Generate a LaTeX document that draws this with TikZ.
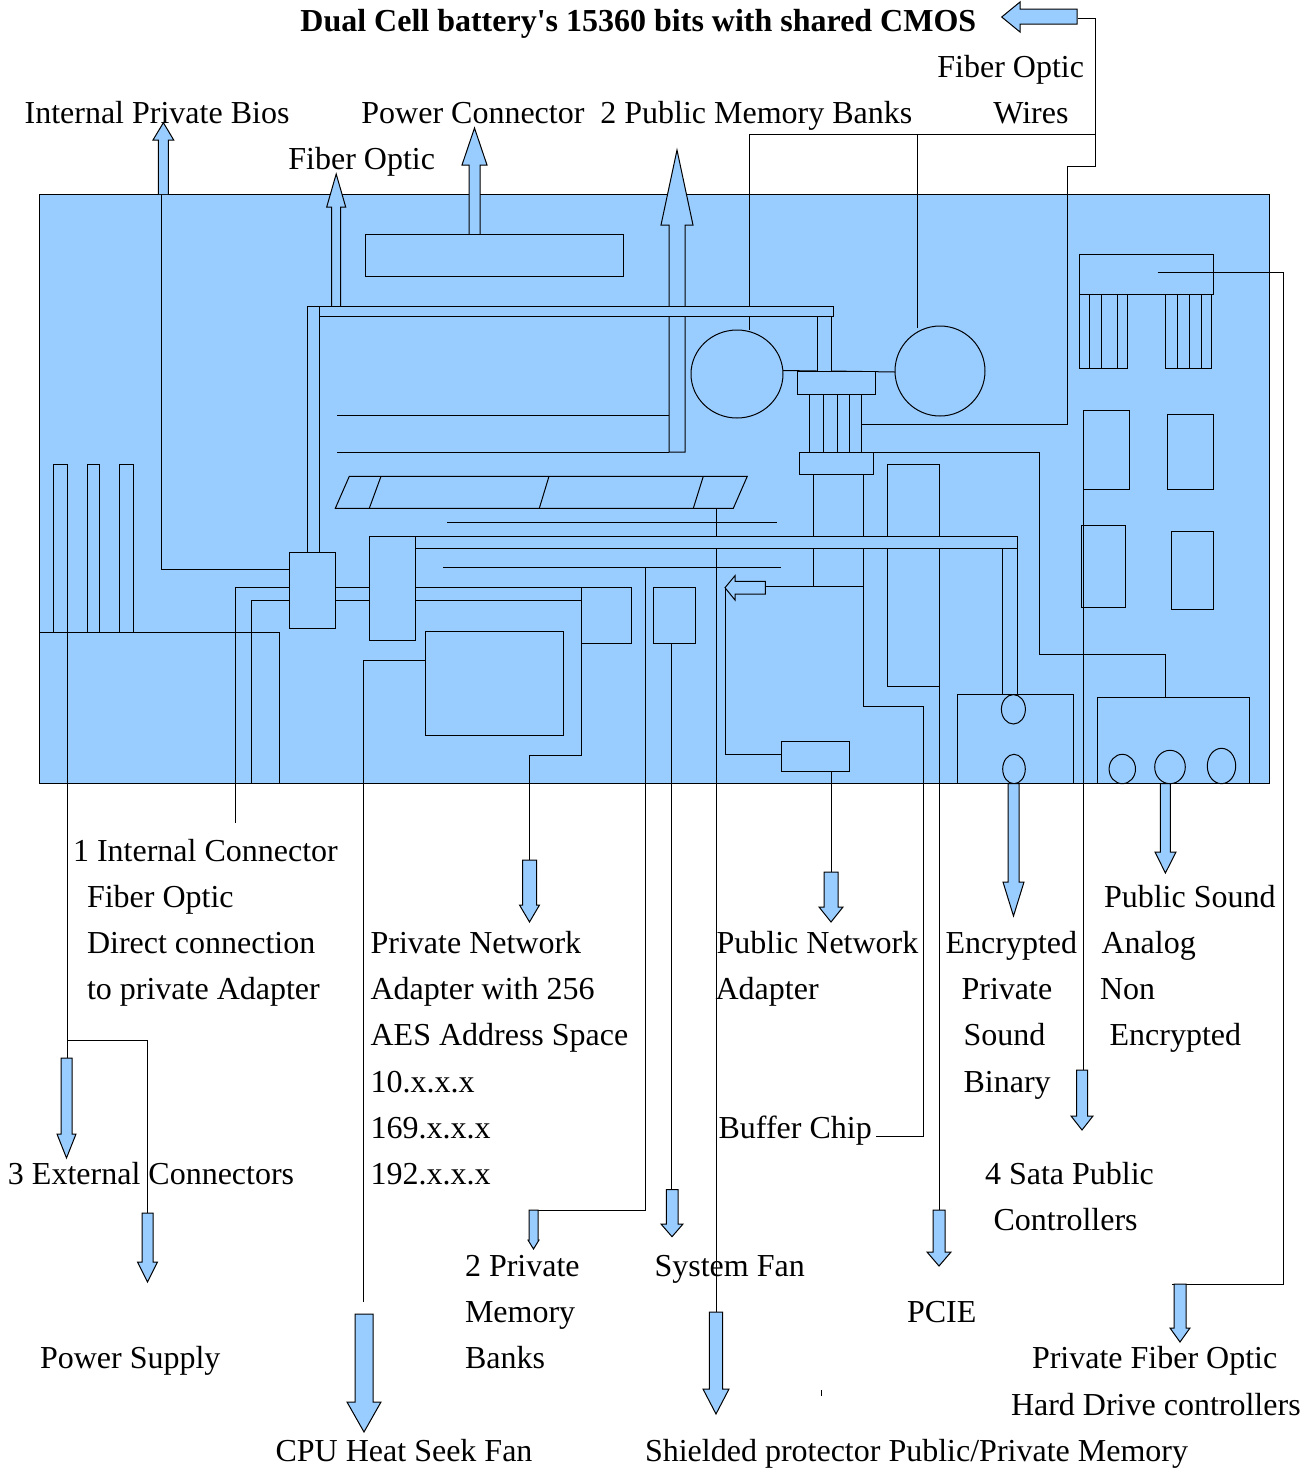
\documentclass[tikz,border=0pt]{standalone}
\usepackage{fontspec}
\setmainfont{Liberation Serif}[Ligatures=TeXOff]
\definecolor{boardblue}{HTML}{99CCFF}
\tikzset{
  lbl/.style={anchor=base west,inner sep=0pt,xshift=-0.4pt,font=\fontsize{16}{19}\selectfont},
  wire/.style={line width=0.5pt,black},
  part/.style={line width=0.5pt,black,fill=boardblue},
}
\begin{document}
\begin{tikzpicture}[x=0.5pt,y=-0.5pt]
\useasboundingbox (0,0) rectangle (1315,1469);
\node[lbl,font=\fontsize{16}{19}\selectfont\bfseries] (title) at (300.8,31) {Dual Cell battery's 15360 bits with shared CMOS};
\node[lbl] (wiresa) at (937.8,77) {Fiber Optic};
\node[lbl] (wiresb) at (993.8,123) {Wires};
\node[lbl] (bios) at (25,123) {Internal Private Bios};
\node[lbl] (power) at (361.8,123) {Power Connector};
\node[lbl] (pubmem) at (600.8,123) {2 Public Memory Banks};
\node[lbl] (fiber) at (288.8,169) {Fiber Optic};
\node[lbl] (intera) at (73.4,861) {1 Internal Connector};
\node[lbl] (interb) at (87.4,907) {Fiber Optic};
\node[lbl] (interc) at (87.4,953) {Direct connection};
\node[lbl] (interd) at (87.4,999) {to private Adapter};
\node[lbl] (pubsnda) at (1104.4,907) {Public Sound};
\node[lbl] (pubsndb) at (1102,953) {Analog};
\node[lbl] (pubsndc) at (1100.4,999) {Non};
\node[lbl] (pubsndd) at (1110,1045) {Encrypted};
\node[lbl] (privneta) at (371,953) {Private Network};
\node[lbl] (privnetb) at (371,999) {Adapter with 256};
\node[lbl] (privnetc) at (371,1045) {AES Address Space};
\node[lbl] (privnetd) at (371,1092) {10.x.x.x};
\node[lbl] (privnete) at (371,1138) {169.x.x.x};
\node[lbl] (privnetf) at (371,1184) {192.x.x.x};
\node[lbl] (pubneta) at (717,953) {Public Network};
\node[lbl] (pubnetb) at (716,999) {Adapter};
\node[lbl] (encsnda) at (946,953) {Encrypted};
\node[lbl] (encsndb) at (962,999) {Private};
\node[lbl] (encsndc) at (964,1045) {Sound};
\node[lbl] (encsndd) at (964,1092) {Binary};
\node[lbl] (buffer) at (719,1138) {Buffer Chip};
\node[lbl] (external) at (8.4,1184) {3 External Connectors};
\node[lbl] (sataa) at (985.4,1184) {4 Sata Public};
\node[lbl] (satab) at (994,1230) {Controllers};
\node[lbl] (privmema) at (465.4,1276) {2 Private};
\node[lbl] (privmemb) at (465.4,1322) {Memory};
\node[lbl] (privmemc) at (465.4,1368) {Banks};
\node[lbl] (sysfan) at (655,1276) {System Fan};
\node[lbl] (pcie) at (907.4,1322) {PCIE};
\node[lbl] (supply) at (40.4,1368) {Power Supply};
\node[lbl] (hdda) at (1032.4,1368) {Private Fiber Optic};
\node[lbl] (hddb) at (1011.4,1415) {Hard Drive controllers};
\node[lbl] (cpufan) at (276,1461) {CPU Heat Seek Fan};
\node[lbl] (shield) at (645.4,1461) {Shielded protector Public/Private Memory};
\draw[part] (39,194) rectangle (1269,783);
\draw[wire] (39,632) -- (279,632) -- (279,783);
\draw[part] (53.3,464) rectangle (67.6,632);
\draw[part] (87.3,464) rectangle (99.6,632);
\draw[part] (119.4,464) rectangle (133.2,632);
\draw[wire] (67.6,632) -- (67.6,1058);
\draw[wire] (67.6,1040) -- (147,1040) -- (147,1213);
\draw[wire] (161,194) -- (161,569) -- (289,569);
\draw[wire] (289,587.6) -- (235,587.6) -- (235,823);
\draw[wire] (289,600) -- (251.4,600) -- (251.4,783);
\draw[wire] (335,587.6) -- (369,587.6) (335,600) -- (369,600);
\draw[wire] (415,587.6) -- (581,587.6) (415,600) -- (581,600);
\draw[wire] (749,134) -- (749,330);
\draw[wire] (749,134) -- (1095,134);
\draw[wire] (917,134) -- (917,328);
\draw[wire] (1078,18) -- (1095,18) -- (1095,166) -- (1067.3,166) -- (1067.3,424) -- (861.4,424);
\draw[wire] (337,415.7) -- (669,415.7) (337,452) -- (669,452);
\draw[part] (669,452) -- (669,225) -- (661,225) -- (677,150) -- (693,225) -- (685,225) -- (685,452) -- cycle;
\draw[part] (307,552) -- (307,306) -- (319,306) -- (319,552);
\draw[part] (331.5,306) -- (331.5,207) -- (326.7,207) -- (336.2,174) -- (345.7,207) -- (340.7,207) -- (340.7,306);
\draw[part] (469,234) -- (469,165) -- (462,165) -- (474.5,128) -- (487,165) -- (480,165) -- (480,234);
\draw[part] (158.3,194) -- (158.3,140) -- (153,140) -- (163.4,122.7) -- (173.7,140) -- (168.3,140) -- (168.3,194);
\draw[part] (365,234) rectangle (623,276);
\draw[part] (817,316) rectangle (831,372);
\draw[part] (319,306) rectangle (833,316);
\draw[part] (737,374) ellipse [x radius=46,y radius=44];
\draw[part] (940,371) ellipse [x radius=45,y radius=45];
\draw[wire] (783,370.5) -- (817,371) (831,371) -- (895,372);
\draw[part] (797,371.7) rectangle (875.6,394);
\draw[wire] (809.4,394) -- (809.4,452) (823.5,394) -- (823.5,452) (837.3,394) -- (837.3,452) (849.5,394) -- (849.5,452) (861.4,394) -- (861.4,452);
\draw[part] (799.4,452) rectangle (873.3,474);
\draw[wire] (873.3,452) -- (1039.4,452) -- (1039.4,654.5) -- (1165.4,654.5) -- (1165.4,697.7);
\draw[part] (349.3,476.3) -- (747.3,476.3) -- (733.3,508.3) -- (335.3,508.3) -- cycle;
\draw[wire] (381,476.3) -- (369.3,508.3) (549,476.3) -- (539.3,508.3) (703.3,476.3) -- (693.3,508.3);
\draw[wire] (716.5,508.3) -- (716.5,1312);
\draw[wire] (447,522) -- (777,522) (443,567.7) -- (781,567.7);
\draw[wire] (813,474) -- (813,586);
\draw[wire] (765,586) -- (863.4,586);
\draw[wire] (863.4,474) -- (863.4,706) -- (923,706) -- (923,1136) -- (876,1136);
\draw[wire] (939.6,464) -- (887.4,464) -- (887.4,686) -- (939.6,686);
\draw[wire] (939.6,464) -- (939.6,1210);
\draw[wire] (645,567.7) -- (645,1210) -- (533,1210);
\draw[part] (415,536) rectangle (1017,548.3);
\draw[wire] (1002,548.3) -- (1002,694) (1017,548.3) -- (1017,695);
\draw[part] (289.4,552.3) rectangle (335.3,628.3);
\draw[part] (369.3,536) rectangle (415,640);
\draw[part] (581.2,587.7) rectangle (631.4,643.7);
\draw[part] (653.3,587.3) rectangle (695.7,643.7);
\draw[part] (425,631.7) rectangle (563.4,735.7);
\draw[wire] (581.2,643.7) -- (581.2,755.7) -- (529,755.7) -- (529,860);
\draw[wire] (425,660) -- (363.3,660) -- (363.3,1302);
\draw[wire] (671.3,643.7) -- (671.3,1190);
\draw[part] (765.4,581.3) -- (735,581.3) -- (735,575.7) -- (725,587.7) -- (735,600) -- (735,594) -- (765.4,594) -- cycle;
\draw[wire] (725,587.7) -- (725,754) -- (781,754);
\draw[part] (781,741.7) rectangle (849.3,771.7);
\draw[wire] (831,771.7) -- (831,872);
\draw[part] (957,694) rectangle (1073,783.7);
\draw[part] (1013.4,709.3) ellipse [x radius=12,y radius=14.7];
\draw[part] (1014,769) ellipse [x radius=11.3,y radius=14.7];
\draw[part] (1097,697.7) rectangle (1249.5,783.7);
\draw[part] (1122.3,769) ellipse [x radius=13.2,y radius=14.7];
\draw[part] (1170,767) ellipse [x radius=15.3,y radius=16.7];
\draw[part] (1221.5,766) ellipse [x radius=14.2,y radius=17.7];
\draw[part] (1079,254) rectangle (1213.5,294);
\draw[part] (1079.5,294) rectangle (1127.4,368.3);
\draw[wire] (1089,294) -- (1089,368.3) (1101.4,294) -- (1101.4,368.3) (1117.4,294) -- (1117.4,368.3);
\draw[part] (1165.3,294) rectangle (1211.6,368.3);
\draw[wire] (1177,294) -- (1177,368.3) (1189.4,294) -- (1189.4,368.3) (1201.2,294) -- (1201.2,368.3);
\draw[part] (1083.4,410) rectangle (1129.3,489.7);
\draw[part] (1167.6,414.3) rectangle (1213.5,489.7);
\draw[part] (1081,525.7) rectangle (1125.6,607.7);
\draw[part] (1171.5,531.7) rectangle (1213.2,609.7);
\draw[wire] (1083.4,489.7) -- (1083.4,1070);
\draw[wire] (1157.6,272) -- (1283,272) -- (1283,1284) -- (1172,1284);
\draw[part] (1077,9) -- (1020,9) -- (1020,2) -- (1001.7,17) -- (1020,32) -- (1020,24) -- (1077,24) -- cycle;
\draw[part] (61,1058) -- (61,1134) -- (57,1134) -- (66.5,1158) -- (76,1134) -- (72,1134) -- (72,1058) -- cycle;
\draw[part] (142,1213) -- (142,1262) -- (137.5,1262) -- (147.5,1282) -- (157.5,1262) -- (153,1262) -- (153,1213) -- cycle;
\draw[part] (522.5,860) -- (522.5,905) -- (519.5,905) -- (529.5,922) -- (539.5,905) -- (536.5,905) -- (536.5,860) -- cycle;
\draw[part] (824,872) -- (824,907) -- (819,907) -- (831,922) -- (843,907) -- (838,907) -- (838,872) -- cycle;
\draw[part] (1008,783.7) -- (1008,882) -- (1003,882) -- (1013.5,916) -- (1024,882) -- (1019,882) -- (1019,783.7) -- cycle;
\draw[part] (1160.4,783.7) -- (1160.4,852) -- (1155,852) -- (1165.4,873) -- (1176,852) -- (1170.3,852) -- (1170.3,783.7) -- cycle;
\draw[part] (1076.5,1070) -- (1076.5,1116) -- (1071,1116) -- (1082,1130) -- (1093,1116) -- (1087.5,1116) -- (1087.5,1070) -- cycle;
\draw[part] (529,1210) -- (529,1240) -- (528,1240) -- (533.5,1249) -- (539,1240) -- (538,1240) -- (538,1210) -- cycle;
\draw[part] (666.3,1189.7) -- (666.3,1224) -- (661,1224) -- (672,1236.7) -- (683,1224) -- (678,1224) -- (678,1189.7) -- cycle;
\draw[part] (933,1210) -- (933,1252) -- (927,1252) -- (939,1266) -- (951,1252) -- (945,1252) -- (945,1210) -- cycle;
\draw[part] (1174,1284) -- (1174,1328) -- (1170,1328) -- (1180,1342) -- (1190,1328) -- (1186,1328) -- (1186,1284) -- cycle;
\draw[part] (355,1314) -- (355,1402) -- (347,1402) -- (364,1432) -- (381,1402) -- (373,1402) -- (373,1314) -- cycle;
\draw[part] (709.3,1312) -- (709.3,1389) -- (703,1389) -- (716,1414) -- (729,1389) -- (722.7,1389) -- (722.7,1312) -- cycle;
\draw[wire] (821.3,1390) -- (821.3,1396);
\end{tikzpicture}
\end{document}
